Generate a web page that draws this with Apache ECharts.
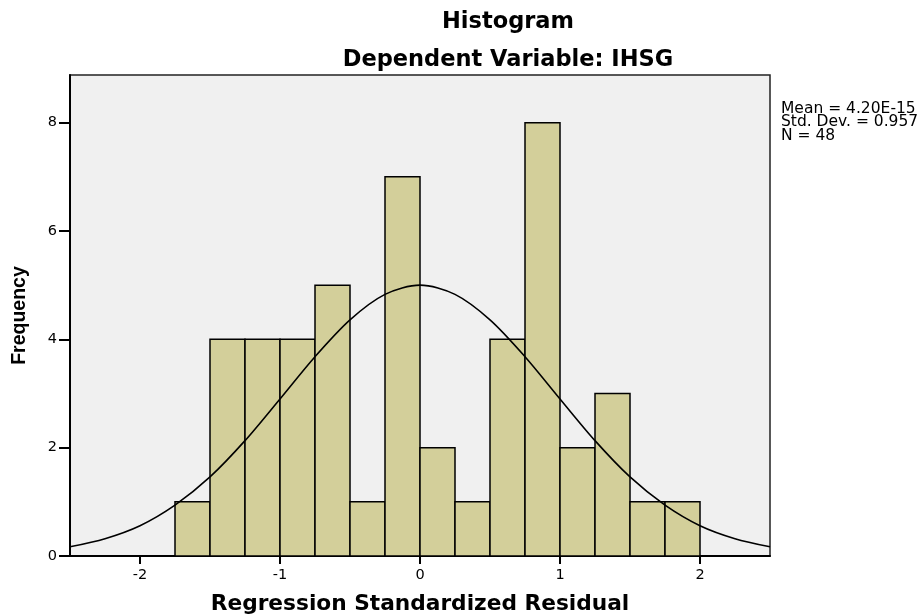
<!DOCTYPE html>
<html>
<head>
<meta charset="utf-8">
<script src="https://cdn.jsdelivr.net/npm/echarts@6/dist/echarts.min.js"></script>
<style>
  html, body { margin: 0; padding: 0; background: #fff; }
  #main { width: 922px; height: 616px; }
</style>
</head>
<body>
<div id="main"></div>
<script>
// histogram bins (lower edge), width 0.25
var binStarts = [-1.75, -1.5, -1.25, -1.0, -0.75, -0.5, -0.25, 0, 0.25, 0.5, 0.75, 1.0, 1.25, 1.5, 1.75];
var binWidth = 0.25;
var counts = [1, 4, 4, 4, 5, 1, 7, 2, 1, 4, 8, 2, 3, 1, 1];

// normal curve
var curveX = [-2.5, -2.25, -2, -1.75, -1.5, -1.25, -1, -0.75, -0.5, -0.25, 0, 0.25, 0.5, 0.75, 1, 1.25, 1.5, 1.75, 2, 2.25, 2.5];
var curveY = [0.17, 0.32, 0.56, 0.94, 1.46, 2.13, 2.9, 3.68, 4.36, 4.83, 5, 4.83, 4.36, 3.68, 2.9, 2.13, 1.46, 0.94, 0.56, 0.32, 0.17];

var xTicks = [-2, -1, 0, 1, 2];
var statsLines = ['Mean = 4.20E-15', 'Std. Dev. = 0.957', 'N = 48'];

var barData = binStarts.map(function (s, i) { return [s, s + binWidth, counts[i]]; });
var lineData = curveX.map(function (x, i) { return [x, curveY[i]]; });

var chart = echarts.init(document.getElementById('main'));

var titleFont = { fontFamily: 'DejaVu Sans', fontWeight: 'bold', fontSize: 22.5, color: '#000' };

var option = {
  animation: false,
  backgroundColor: '#fff',
  title: [
    { text: 'Histogram', left: 503, top: 6, textAlign: 'center', textStyle: titleFont },
    { text: 'Dependent Variable: IHSG', left: 503, top: 44, textAlign: 'center', textStyle: titleFont },
    {
      text: statsLines.join('\n'), left: 776, top: 97,
      textStyle: { fontFamily: 'DejaVu Sans', fontWeight: 'normal', fontSize: 15.5, lineHeight: 13.5, color: '#000' }
    }
  ],
  grid: {
    left: 70, top: 75, width: 700, height: 481,
    show: true, backgroundColor: '#f0f0f0', borderColor: '#222', borderWidth: 1.5,
    containLabel: false, outerBoundsMode: 'none'
  },
  xAxis: {
    type: 'value', min: -2.5, max: 2.5,
    name: 'Regression Standardized Residual', nameLocation: 'middle', nameGap: 37,
    nameTextStyle: { fontFamily: 'DejaVu Sans', fontWeight: 'bold', fontSize: 21.7, color: '#000' },
    axisLine: { onZero: false, lineStyle: { color: '#000', width: 2 } },
    axisTick: { show: true, length: 8, customValues: xTicks, lineStyle: { color: '#000', width: 2 } },
    axisLabel: { customValues: xTicks, margin: 12, fontFamily: 'DejaVu Sans', fontSize: 14.5, color: '#000' },
    splitLine: { show: false }
  },
  yAxis: {
    type: 'value', min: 0, max: 8.88, interval: 2,
    name: 'Frequency', nameLocation: 'middle', nameGap: 40, nameRotate: 90,
    nameTextStyle: { fontFamily: 'Liberation Sans', fontWeight: 'bold', fontSize: 19.5, color: '#000' },
    axisLine: { show: true, onZero: false, lineStyle: { color: '#000', width: 2 } },
    axisTick: { show: true, length: 11, lineStyle: { color: '#000', width: 2 } },
    axisLabel: { margin: 13, showMaxLabel: false, fontFamily: 'DejaVu Sans', fontSize: 14.5, color: '#000' },
    splitLine: { show: false }
  },
  series: [
    {
      type: 'custom',
      data: barData,
      encode: { x: [0, 1], y: 2 },
      renderItem: function (params, api) {
        var p0 = api.coord([api.value(0), api.value(2)]);
        var p1 = api.coord([api.value(1), 0]);
        return {
          type: 'rect',
          shape: { x: p0[0], y: p0[1], width: p1[0] - p0[0], height: p1[1] - p0[1] },
          style: { fill: '#d3cf9a', stroke: '#000', lineWidth: 1.5 }
        };
      },
      z: 2
    },
    {
      type: 'line',
      data: lineData,
      smooth: 0.3,
      showSymbol: false,
      lineStyle: { color: '#000', width: 1.6 },
      z: 3
    }
  ]
};

chart.setOption(option);
</script>
</body>
</html>
